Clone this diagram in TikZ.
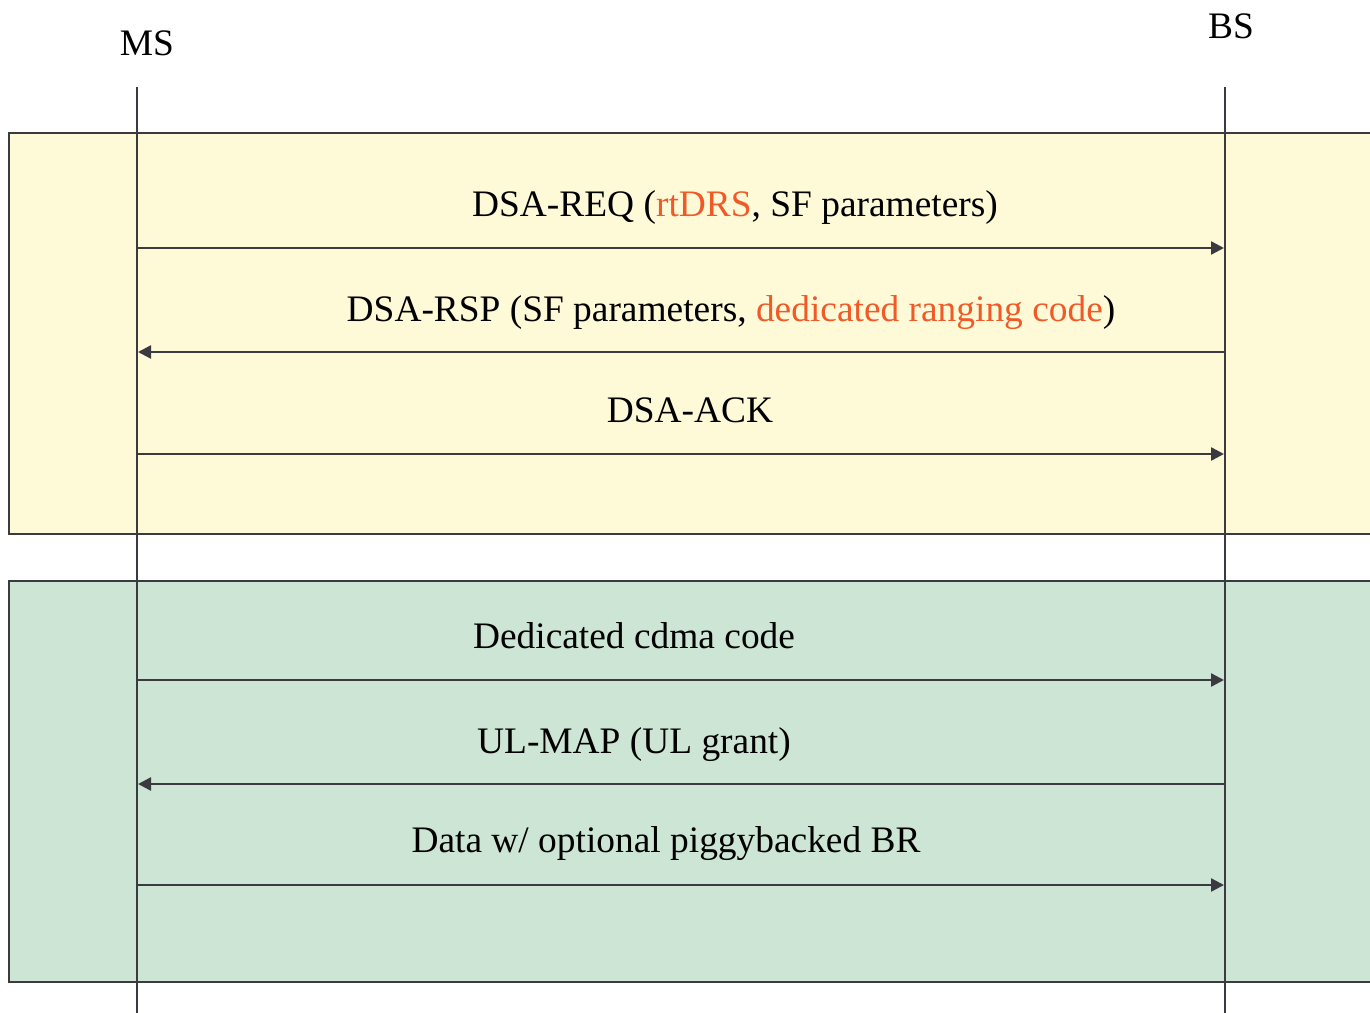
\documentclass[tikz,border=0pt]{standalone}
\usepackage{fontspec}
\setmainfont{Liberation Serif}
\usetikzlibrary{arrows.meta}
\definecolor{linec}{HTML}{3A3A40}
\definecolor{yel}{HTML}{FEF9D7}
\definecolor{grn}{HTML}{CCE5D4}
\definecolor{orng}{HTML}{F05A28}
\tikzset{
  band/.style={draw=linec, line width=2.6pt},
  life/.style={draw=linec, line width=2.4pt},
  msg/.style={draw=linec, line width=2.4pt, -{Triangle[length=13pt,width=13pt]}},
  lbl/.style={anchor=base, inner sep=0pt, font=\fontsize{37.4}{44}\selectfont},
}
\begin{document}
\begin{tikzpicture}[x=1pt,y=-1pt]
\useasboundingbox (0,0) rectangle (1370,1012);
\clip (0,0) rectangle (1370,1012);
% bands
\draw[band, fill=yel] (9,133) rectangle (1390,534);
\draw[band, fill=grn] (9,581) rectangle (1390,982);
% lifelines
\coordinate (ms0) at (137,87);
\coordinate (ms1) at (137,1015);
\coordinate (bs0) at (1225,87);
\coordinate (bs1) at (1225,1015);
\draw[life] (ms0) -- (ms1);
\draw[life] (bs0) -- (bs1);
% headers
\node[lbl] (ms) at (147,55) {MS};
\node[lbl] (bs) at (1231,38) {BS};
% message endpoints
\foreach \n/\y in {a/248,b/352,c/454,d/680,e/784,f/885}{
  \coordinate (L\n) at (138,\y);
  \coordinate (R\n) at (1224,\y);
}
\draw[msg] (La) -- (Ra);
\draw[msg] (Rb) -- (Lb);
\draw[msg] (Lc) -- (Rc);
\draw[msg] (Ld) -- (Rd);
\draw[msg] (Re) -- (Le);
\draw[msg] (Lf) -- (Rf);
% labels
\node[lbl] (ta) at (735,216) {DSA-REQ (\textcolor{orng}{rtDRS}, SF parameters)};
\node[lbl] (tb) at (731,321) {DSA-RSP (SF parameters, \textcolor{orng}{dedicated ranging code})};
\node[lbl] (tc) at (690,422) {DSA-ACK};
\node[lbl] (td) at (634,648) {Dedicated cdma code};
\node[lbl] (te) at (634,753) {UL-MAP (UL grant)};
\node[lbl] (tf) at (666,852) {Data w/ optional piggybacked BR};
\end{tikzpicture}
\end{document}
